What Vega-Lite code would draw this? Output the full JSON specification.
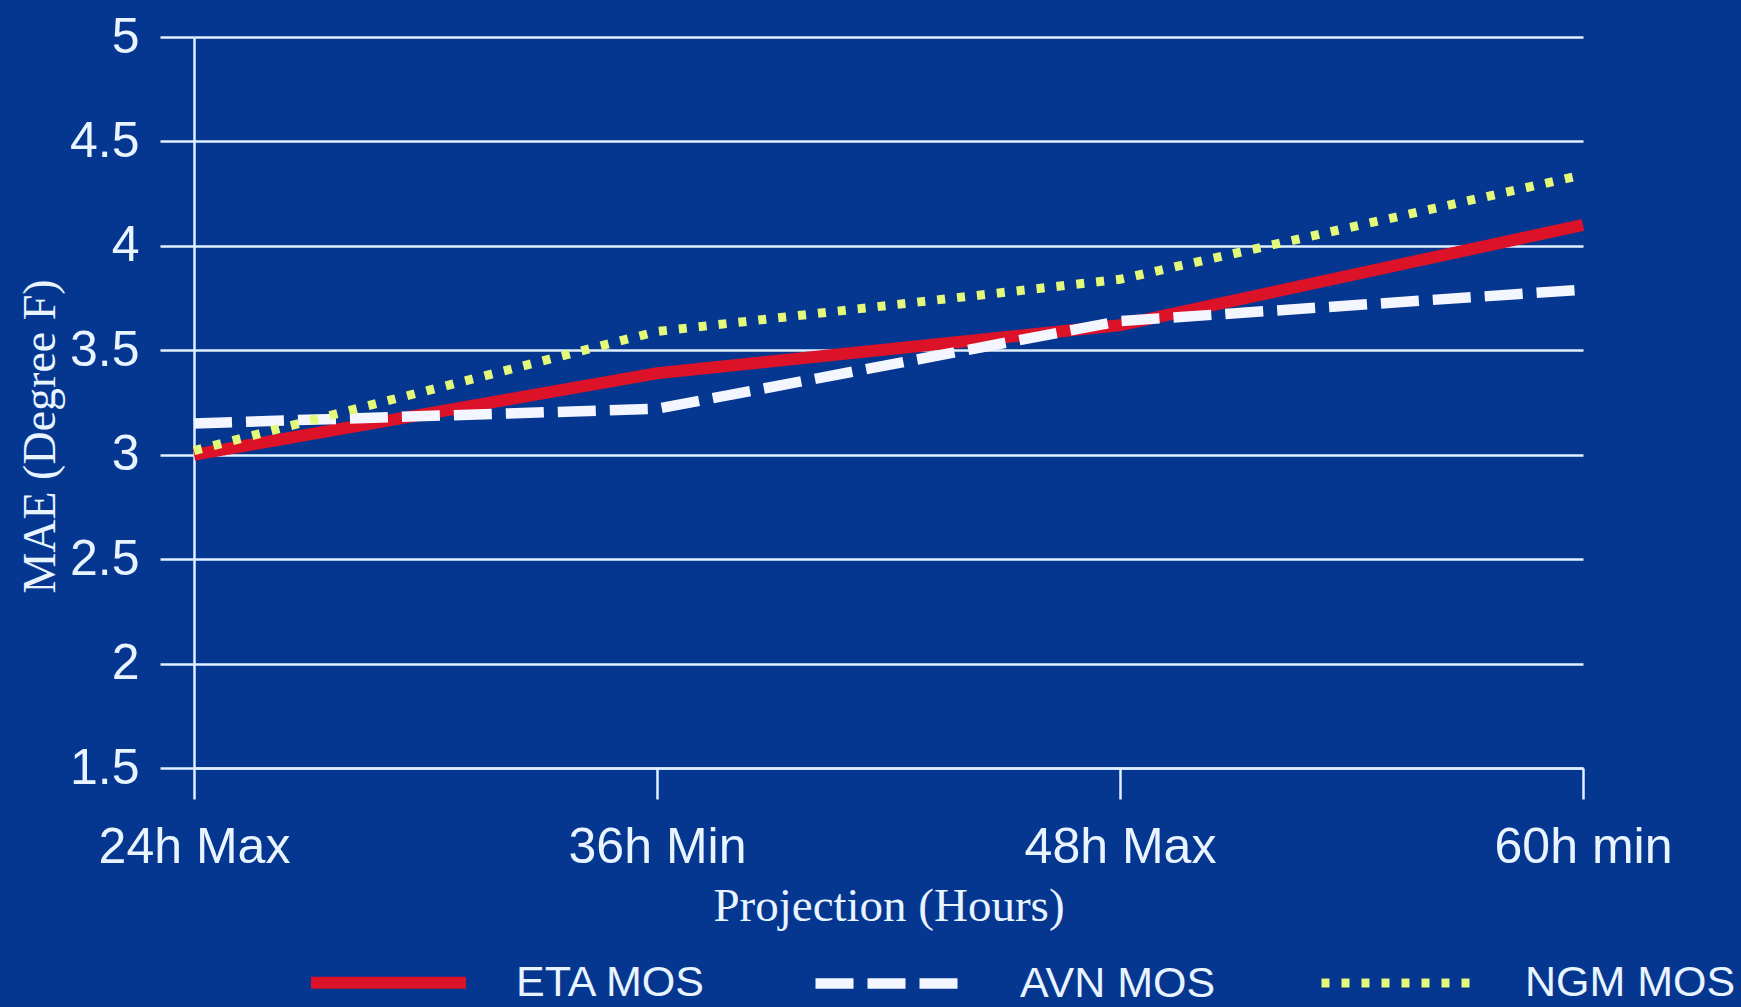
{
  "$schema": "https://vega.github.io/schema/vega-lite/v6.json",
  "width": 1389,
  "height": 731,
  "autosize": {"type": "none"},
  "padding": {"left": 194, "top": 37, "right": 158, "bottom": 239},
  "background": "#063790",
  "config": {
    "view": {"stroke": null},
    "font": "Liberation Sans",
    "legend": {
      "orient": "none",
      "legendX": 111,
      "legendY": 862,
      "direction": "horizontal",
      "title": null,
      "padding": 0,
      "labelFont": "Liberation Sans",
      "labelFontSize": 43,
      "labelColor": "#e8f4ff",
      "labelOffset": 44,
      "labelLimit": 400,
      "columnPadding": 87,
      "symbolType": "stroke",
      "symbolSize": 24025,
      "symbolStrokeWidth": 10
    }
  },
  "data": {
    "values": [
      {"projection": "24h Max", "series": "ETA MOS", "mae": 3.0},
      {"projection": "36h Min", "series": "ETA MOS", "mae": 3.39},
      {"projection": "48h Max", "series": "ETA MOS", "mae": 3.62},
      {"projection": "60h min", "series": "ETA MOS", "mae": 4.1},
      {"projection": "24h Max", "series": "AVN MOS", "mae": 3.15},
      {"projection": "36h Min", "series": "AVN MOS", "mae": 3.22},
      {"projection": "48h Max", "series": "AVN MOS", "mae": 3.64},
      {"projection": "60h min", "series": "AVN MOS", "mae": 3.79},
      {"projection": "24h Max", "series": "NGM MOS", "mae": 3.02},
      {"projection": "36h Min", "series": "NGM MOS", "mae": 3.59},
      {"projection": "48h Max", "series": "NGM MOS", "mae": 3.84},
      {"projection": "60h min", "series": "NGM MOS", "mae": 4.34}
    ]
  },
  "mark": {"type": "line", "strokeCap": "butt"},
  "encoding": {
    "x": {
      "field": "projection",
      "type": "ordinal",
      "sort": ["24h Max", "36h Min", "48h Max", "60h min"],
      "scale": {"type": "point", "padding": 0},
      "axis": {
        "title": "Projection (Hours)",
        "titleFont": "Liberation Serif",
        "titleFontSize": 47,
        "titleFontWeight": "normal",
        "titleColor": "#e8f4ff",
        "titleY": 115,
        "labelFont": "Liberation Sans",
        "labelFontSize": 50,
        "labelColor": "#e8f4ff",
        "labelAngle": 0,
        "labelLimit": 400,
        "labelPadding": 23,
        "tickSize": 31,
        "tickColor": "#e0f0ff",
        "tickWidth": 2.5,
        "domainColor": "#e0f0ff",
        "domainWidth": 2.5,
        "grid": false
      }
    },
    "y": {
      "field": "mae",
      "type": "quantitative",
      "scale": {"domain": [1.5, 5], "nice": false, "zero": false},
      "axis": {
        "title": "MAE (Degree F)",
        "titleFont": "Liberation Serif",
        "titleFontSize": 46,
        "titleFontWeight": "normal",
        "titleColor": "#e8f4ff",
        "titleX": -130,
        "titleY": 399,
        "values": [1.5, 2, 2.5, 3, 3.5, 4, 4.5, 5],
        "format": "~g",
        "labelFont": "Liberation Sans",
        "labelFontSize": 50,
        "labelColor": "#e8f4ff",
        "labelPadding": 21,
        "tickSize": 34,
        "tickColor": "#e0f0ff",
        "tickWidth": 2.5,
        "domainColor": "#e0f0ff",
        "domainWidth": 2.5,
        "grid": true,
        "gridColor": "#e0f0ff",
        "gridWidth": 2.5
      }
    },
    "color": {
      "field": "series",
      "type": "nominal",
      "scale": {"domain": ["ETA MOS", "AVN MOS", "NGM MOS"], "range": ["#dc1228", "#f4f6ff", "#e4f87a"]}
    },
    "strokeDash": {
      "field": "series",
      "type": "nominal",
      "scale": {"domain": ["ETA MOS", "AVN MOS", "NGM MOS"], "range": [[1, 0], [38, 14], [8, 12]]}
    },
    "strokeWidth": {
      "field": "series",
      "type": "nominal",
      "scale": {"domain": ["ETA MOS", "AVN MOS", "NGM MOS"], "range": [12, 9, 8]}
    }
  }
}
